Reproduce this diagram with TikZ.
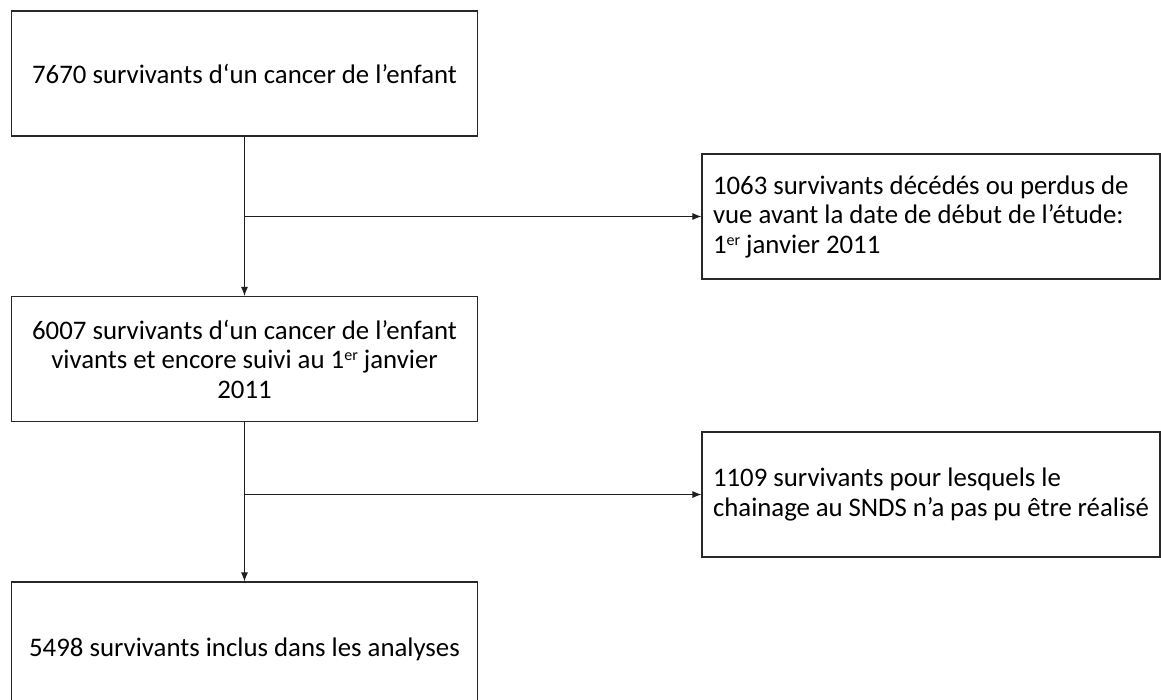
\documentclass[tikz,border=0pt]{standalone}
\usepackage{fontspec}
\setmainfont{Carlito}
\usetikzlibrary{arrows.meta,calc}
\definecolor{BoxClr}{RGB}{40,40,40}
\definecolor{ArrowClr}{RGB}{30,30,30}
\newcommand{\supEr}{\raisebox{0.62ex}{\fontsize{16}{16}\selectfont er}}

\tikzset{
  flowbox/.style={draw=BoxClr,line width=1.2pt,inner sep=0pt,
    font=\fontsize{26.8}{29.5}\selectfont},
  mainbox/.style={flowbox,minimum width=466pt,minimum height=125pt,align=center},
  sidebox/.style={flowbox,minimum width=458pt,minimum height=125pt,align=flush left,
    text width=436pt},
  flowarrow/.style={draw=ArrowClr,line width=0.9pt,-{Latex[length=9pt,width=7pt]}}
}

\begin{document}
\begin{tikzpicture}[x=1pt,y=-1pt]
\useasboundingbox (0,0) rectangle (1161,699);
\clip (0,0) rectangle (1161,699);

\node[mainbox] (n7670) at (244.5,73.5) {7670 survivants d‘un cancer de l’enfant};
\node[sidebox] (n1063) at (931,216.5) {1063 survivants décédés ou perdus de\\vue avant la date de début de l’étude:\\1\supEr{} janvier 2011};
\node[mainbox] (n6007) at (244.5,359) {6007 survivants d‘un cancer de l’enfant\\vivants et encore suivi au 1\supEr{} janvier\\2011};
\node[sidebox] (n1109) at (931,494.5) {1109 survivants pour lesquels le\\chainage au SNDS n’a pas pu être réalisé};
\node[mainbox,minimum height=134pt] (n5498) at (244.5,649) {5498 survivants inclus dans les analyses};

\coordinate (split1) at (n7670.south |- n1063.west);
\coordinate (split2) at (n6007.south |- n1109.west);

\draw[flowarrow] (n7670.south) -- (n6007.north);
\draw[flowarrow] (split1) -- (n1063.west);
\draw[flowarrow] (n6007.south) -- (n5498.north);
\draw[flowarrow] (split2) -- (n1109.west);

\end{tikzpicture}
\end{document}
